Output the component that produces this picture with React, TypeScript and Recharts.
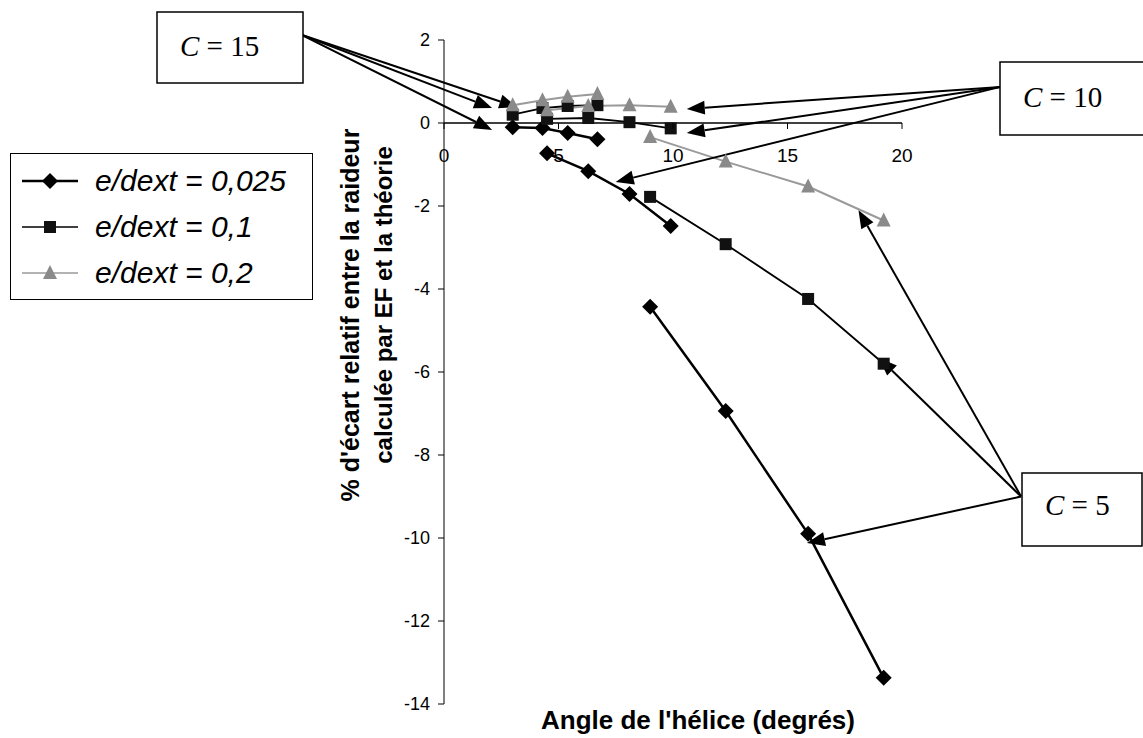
import React from 'react';
import { LineChart, Line, XAxis, YAxis, ReferenceLine } from 'recharts';

// helix angles (degrees) for each spring index C
const anglesC15 = [3.0, 4.3, 5.4, 6.7];
const anglesC10 = [4.5, 6.3, 8.1, 9.9];
const anglesC5 = [9.0, 12.3, 15.9, 19.2];

// % deviation, e/dext = 0,025
const ecart025C15 = [-0.1, -0.12, -0.24, -0.39];
const ecart025C10 = [-0.73, -1.16, -1.71, -2.48];
const ecart025C5 = [-4.43, -6.94, -9.9, -13.37];

// % deviation, e/dext = 0,1
const ecart01C15 = [0.2, 0.36, 0.41, 0.43];
const ecart01C10 = [0.1, 0.12, 0.02, -0.13];
const ecart01C5 = [-1.78, -2.92, -4.24, -5.8];

// % deviation, e/dext = 0,2
const ecart02C15 = [0.43, 0.55, 0.63, 0.7];
const ecart02C10 = [0.31, 0.41, 0.43, 0.39];
const ecart02C5 = [-0.34, -0.93, -1.53, -2.35];

const xTicks = [0, 5, 10, 15, 20];
const yTicks = [-14, -12, -10, -8, -6, -4, -2, 0, 2];
const seriesNames = ['e/dext = 0,025', 'e/dext = 0,1', 'e/dext = 0,2'];

// annotation arrows in axis units: [fromX, fromY, toX, toY]
const arrowsC15 = [
    [-6.2, 2.12, 2.1, 0.36],
    [-6.2, 2.12, 3.2, 0.38],
    [-6.2, 2.12, 2.1, -0.17],
];
const arrowsC10 = [
    [24.3, 0.87, 10.6, 0.34],
    [24.3, 0.87, 10.6, -0.24],
    [24.3, 0.87, 7.5, -1.42],
];
const arrowsC5 = [
    [25.2, -9.0, 18.1, -2.1],
    [25.2, -9.0, 19.0, -5.66],
    [25.2, -9.0, 15.85, -10.12],
];

const W = 1143;
const H = 738;
const PLOT_BOTTOM = 704;
const M = { top: 40, right: 241, bottom: 4, left: 364 };
const Y_MAX = 2;
const Y_MIN = -14;
const ZERO_Y = M.top + ((PLOT_BOTTOM - M.top) * Y_MAX) / (Y_MAX - Y_MIN);

const SANS = '"Liberation Sans", Arial, sans-serif';
const SERIF = '"Liberation Serif", "Times New Roman", serif';
const GREY = '#9a9a9a';

const pts = (xs: number[], ys: number[]) => xs.map((x, i) => ({ x, y: ys[i] }));

const Diamond = (p: any) => (
    <polygon
        key={`d-${p.index}`}
        points={`${p.cx},${p.cy - 8} ${p.cx + 8},${p.cy} ${p.cx},${p.cy + 8} ${p.cx - 8},${p.cy}`}
        fill="#000"
    />
);
const Square = (p: any) => (
    <rect key={`s-${p.index}`} x={p.cx - 6} y={p.cy - 6} width={12} height={12} fill="#111" />
);
const Triangle = (p: any) => (
    <polygon
        key={`t-${p.index}`}
        points={`${p.cx},${p.cy - 8} ${p.cx + 7},${p.cy + 6} ${p.cx - 7},${p.cy + 6}`}
        fill="#8a8a8a"
    />
);

// x ticks drawn on the y = 0 line, as in the original (axis crossing at zero)
const XTick = (p: any) => (
    <g>
        <line x1={p.x} x2={p.x} y1={ZERO_Y} y2={ZERO_Y + 6} stroke="#000" />
        <text x={p.x} y={ZERO_Y + 39} textAnchor="middle" fontSize={19} fontFamily={SANS} fill="#000">
            {p.payload.value}
        </text>
    </g>
);

const Arrow = (p: any) => {
    const { x1, y1, x2, y2 } = p;
    const a = Math.atan2(y2 - y1, x2 - x1);
    const len = 18;
    const half = 7;
    const bx = x2 - len * Math.cos(a);
    const by = y2 - len * Math.sin(a);
    const nx = -Math.sin(a) * half;
    const ny = Math.cos(a) * half;
    return (
        <g>
            <line x1={x1} y1={y1} x2={bx} y2={by} stroke="#000" strokeWidth={2} />
            <polygon points={`${x2},${y2} ${bx + nx},${by + ny} ${bx - nx},${by - ny}`} fill="#000" />
        </g>
    );
};

const legendMarkers = [
    { stroke: '#000', width: 2.5, dot: Diamond },
    { stroke: '#000', width: 1.5, dot: Square },
    { stroke: GREY, width: 1.5, dot: Triangle },
];

const LegendBox = () => (
    <div
        style={{
            position: 'absolute',
            left: 10,
            top: 153,
            border: '1.5px solid #000',
            width: 303,
            height: 147,
            boxSizing: 'border-box',
            background: '#fff',
            paddingTop: 4,
        }}
    >
        {seriesNames.map((name, i) => (
            <div key={name} style={{ display: 'flex', alignItems: 'center', height: 46 }}>
                <svg width={56} height={30} style={{ marginLeft: 11 }}>
                    <line x1={0} x2={56} y1={15} y2={15} stroke={legendMarkers[i].stroke} strokeWidth={legendMarkers[i].width} />
                    {legendMarkers[i].dot({ cx: 28, cy: 15, index: i })}
                </svg>
                <span style={{ marginLeft: 17, fontFamily: SANS, fontStyle: 'italic', fontSize: 30, color: '#000' }}>
                    {name}
                </span>
            </div>
        ))}
    </div>
);

const series = [
    { data: pts(anglesC15, ecart025C15), stroke: '#000', w: 2.5, dot: Diamond },
    { data: pts(anglesC10, ecart025C10), stroke: '#000', w: 2.5, dot: Diamond },
    { data: pts(anglesC5, ecart025C5), stroke: '#000', w: 2.5, dot: Diamond },
    { data: pts(anglesC15, ecart01C15), stroke: '#000', w: 1.8, dot: Square },
    { data: pts(anglesC10, ecart01C10), stroke: '#000', w: 1.8, dot: Square },
    { data: pts(anglesC5, ecart01C5), stroke: '#000', w: 1.8, dot: Square },
    { data: pts(anglesC15, ecart02C15), stroke: GREY, w: 2, dot: Triangle },
    { data: pts(anglesC10, ecart02C10), stroke: GREY, w: 2, dot: Triangle },
    { data: pts(anglesC5, ecart02C5), stroke: GREY, w: 2, dot: Triangle },
];

const CBox = ({ x, y, w, h, label, tx, ty }: any) => (
    <g>
        <rect x={x} y={y} width={w} height={h} fill="#fff" stroke="#000" strokeWidth={1.5} />
        <text x={tx} y={ty} fontFamily={SERIF} fontSize={29} fill="#000">
            <tspan fontStyle="italic">C</tspan>
            {` = ${label}`}
        </text>
    </g>
);

export default function App() {
    return (
        <div style={{ position: 'absolute', left: 0, top: 0, width: W, height: H, background: '#fff' }}>
            <LineChart width={W} height={H} margin={M}>
                <XAxis
                    type="number"
                    dataKey="x"
                    domain={[0, 20]}
                    ticks={xTicks}
                    interval={0}
                    height={30}
                    axisLine={false}
                    tickLine={false}
                    tick={XTick}
                />
                <YAxis
                    type="number"
                    domain={[Y_MIN, Y_MAX]}
                    ticks={yTicks}
                    interval={0}
                    width={80}
                    axisLine={{ stroke: '#000' }}
                    tickLine={{ stroke: '#000' }}
                    tickSize={6}
                    tickMargin={8}
                    tick={{ fill: '#000', fontSize: 18, fontFamily: SANS }}
                />
                <ReferenceLine y={0} stroke="#000" strokeWidth={1.3} />
                {series.map((s, i) => (
                    <Line
                        key={i}
                        data={s.data}
                        dataKey="y"
                        stroke={s.stroke}
                        strokeWidth={s.w}
                        dot={s.dot}
                        activeDot={false}
                        legendType="none"
                        isAnimationActive={false}
                    />
                ))}
                {[...arrowsC15, ...arrowsC10, ...arrowsC5].map((a, i) => (
                    <ReferenceLine
                        key={`arr-${i}`}
                        segment={[{ x: a[0], y: a[1] }, { x: a[2], y: a[3] }]}
                        ifOverflow="visible"
                        shape={Arrow}
                    />
                ))}
            </LineChart>
            <LegendBox />
            <svg
                width={W}
                height={H}
                style={{ position: 'absolute', left: 0, top: 0, pointerEvents: 'none' }}
            >
                <CBox x={157} y={12} w={146} h={71} label="15" tx={180} ty={56} />
                <CBox x={1000} y={62} w={150} h={73} label="10" tx={1023} ty={107} />
                <CBox x={1022} y={473} w={120} h={73} label="5" tx={1045} ty={515} />
                <g fontFamily={SANS} fontWeight="bold" fontSize={24} fill="#000">
                    <text x={350} y={315} textAnchor="middle" dominantBaseline="central" fontSize={25} transform="rotate(-90 350 315)">
                        % d'écart relatif entre la raideur
                    </text>
                    <text x={383} y={305} textAnchor="middle" dominantBaseline="central" transform="rotate(-90 383 305)">
                        calculée par EF et la théorie
                    </text>
                    <text x={698} y={720} textAnchor="middle" dominantBaseline="central" fontSize={26}>
                        Angle de l'hélice (degrés)
                    </text>
                </g>
            </svg>
        </div>
    );
}
